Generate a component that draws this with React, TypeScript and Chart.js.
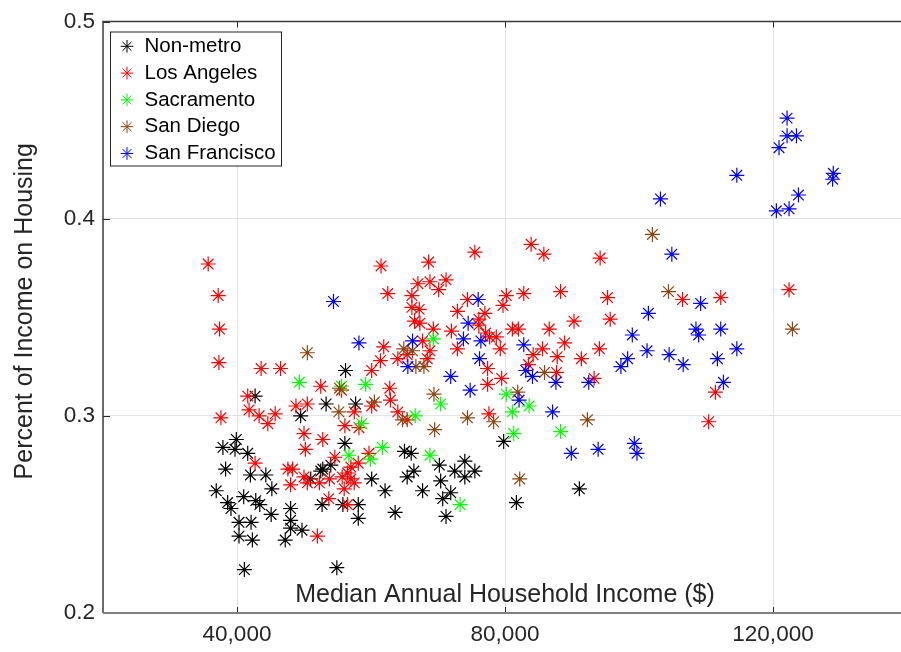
import React, { useEffect, useRef } from "react";
import { Chart, registerables } from "chart.js";
import { drawPoint } from "chart.js/helpers";

Chart.register(...registerables);

// Median annual household income ($) and share of income spent on housing, by region
const nonMetroIncome = [79800, 65000, 66000, 70200, 74000, 72500, 75500, 66400, 65400, 74000, 70400, 67700, 71900, 70700, 71200, 63600, 81700, 91100, 56200, 42700, 53300, 57700, 49500, 56100, 39900, 37900, 39700, 41600, 38300, 42000, 44300, 45200, 36900, 41000, 42800, 43400, 38600, 39100, 45100, 48000, 48000, 48000, 49700, 47200, 40300, 42100, 40300, 42300, 41100, 54900, 52700, 51000, 52500, 54000, 52800, 58100, 58100, 60100, 62100, 55800];
const nonMetroShare = [0.287, 0.282, 0.281, 0.275, 0.277, 0.272, 0.272, 0.272, 0.269, 0.269, 0.267, 0.262, 0.261, 0.258, 0.249, 0.251, 0.256, 0.263, 0.323, 0.310, 0.306, 0.306, 0.300, 0.286, 0.288, 0.284, 0.283, 0.281, 0.273, 0.270, 0.270, 0.263, 0.262, 0.259, 0.257, 0.255, 0.256, 0.253, 0.250, 0.253, 0.247, 0.243, 0.242, 0.237, 0.246, 0.246, 0.239, 0.237, 0.222, 0.223, 0.255, 0.268, 0.272, 0.275, 0.273, 0.255, 0.248, 0.268, 0.262, 0.255];

const laIncome = [94200, 95300, 106500, 112200, 122400, 95700, 94100, 91400, 93300, 111400, 110400, 75500, 83900, 85800, 68600, 67000, 68800, 71200, 70100, 66100, 80200, 82800, 88300, 74400, 79700, 66100, 67200, 72900, 77000, 66500, 67300, 76100, 76100, 90300, 69300, 72000, 77100, 77700, 78700, 81100, 82000, 86600, 88900, 67700, 72900, 79300, 85600, 84200, 87800, 68800, 68400, 64000, 65400, 77400, 83500, 87700, 79500, 77400, 64000, 77600, 65400, 35700, 37200, 37400, 37300, 61500, 62500, 43600, 46500, 61900, 61400, 60100, 52500, 55600, 62800, 41600, 48800, 50500, 41800, 43300, 45700, 37600, 62900, 60100, 57500, 44600, 56100, 58200, 50000, 52800, 50200, 42700, 54600, 59700, 58100, 57000, 56500, 47600, 48300, 50000, 48000, 50500, 52300, 53800, 55700, 56000, 57000, 57500, 53700, 56500, 52000];
const laShare = [0.380, 0.360, 0.359, 0.360, 0.364, 0.349, 0.334, 0.329, 0.319, 0.312, 0.297, 0.383, 0.387, 0.382, 0.378, 0.367, 0.368, 0.369, 0.364, 0.361, 0.361, 0.362, 0.363, 0.359, 0.356, 0.355, 0.354, 0.353, 0.352, 0.348, 0.347, 0.349, 0.346, 0.348, 0.344, 0.343, 0.342, 0.340, 0.340, 0.344, 0.344, 0.344, 0.337, 0.338, 0.334, 0.334, 0.334, 0.331, 0.330, 0.333, 0.329, 0.329, 0.331, 0.324, 0.326, 0.322, 0.319, 0.316, 0.302, 0.301, 0.298, 0.377, 0.361, 0.344, 0.327, 0.376, 0.362, 0.324, 0.324, 0.335, 0.328, 0.323, 0.315, 0.313, 0.314, 0.310, 0.305, 0.306, 0.303, 0.300, 0.301, 0.299, 0.308, 0.305, 0.302, 0.296, 0.295, 0.294, 0.291, 0.288, 0.283, 0.276, 0.279, 0.281, 0.276, 0.274, 0.271, 0.273, 0.273, 0.269, 0.265, 0.266, 0.266, 0.268, 0.269, 0.263, 0.268, 0.266, 0.258, 0.255, 0.239];

const sacIncome = [69300, 80200, 70400, 83600, 81100, 66600, 49300, 55600, 59200, 58600, 56700, 59900, 61700, 81300, 88300, 68800, 73300];
const sacShare = [0.339, 0.311, 0.306, 0.305, 0.302, 0.300, 0.317, 0.315, 0.316, 0.296, 0.280, 0.278, 0.284, 0.291, 0.292, 0.280, 0.255];

const sdIncome = [102000, 104400, 122900, 92300, 64900, 66200, 66700, 67900, 69400, 85900, 81900, 74400, 64700, 50500, 55300, 60500, 55200, 78300, 69500, 82200];
const sdShare = [0.392, 0.363, 0.344, 0.298, 0.334, 0.333, 0.325, 0.325, 0.311, 0.322, 0.312, 0.299, 0.298, 0.332, 0.314, 0.307, 0.302, 0.297, 0.293, 0.268];

const sfIncome = [122100, 122100, 123500, 120900, 114600, 129000, 128900, 123800, 122400, 120500, 103200, 104900, 109200, 101400, 108500, 108900, 112200, 99000, 114600, 101200, 104500, 106600, 98300, 97300, 111700, 112600, 92500, 93900, 99300, 99700, 76000, 74500, 76400, 73800, 66200, 82800, 76200, 65500, 83100, 84100, 87600, 71900, 74800, 82100, 87100, 54400, 58200, 89900];
const sfShare = [0.451, 0.442, 0.442, 0.436, 0.422, 0.423, 0.420, 0.412, 0.405, 0.404, 0.410, 0.382, 0.357, 0.352, 0.344, 0.341, 0.344, 0.341, 0.334, 0.333, 0.331, 0.326, 0.329, 0.325, 0.329, 0.317, 0.317, 0.283, 0.286, 0.281, 0.359, 0.347, 0.338, 0.339, 0.338, 0.336, 0.329, 0.325, 0.323, 0.320, 0.317, 0.320, 0.313, 0.308, 0.302, 0.358, 0.337, 0.281];

const seriesNames = ["Non-metro", "Los Angeles", "Sacramento", "San Diego", "San Francisco"];
const seriesColors = ["#000000", "#ff0000", "#00ff00", "#8b4513", "#0000ff"];
const xTicks = [40000, 80000, 120000];
const xTitle = "Median Annual Household Income ($)";
const yTitle = "Percent of Income on Housing";

const FONT = '"Liberation Sans", Arial, Helvetica, sans-serif';
const AXIS_COLOR = "#262626";

const toPoints = (xs: number[], ys: number[]) => xs.map((x, i) => ({ x, y: ys[i] }));

// Box, inward tick marks, in-axes x label, rotated y label and boxed legend
const decorations = {
  id: "decorations",
  afterDraw(chart: any) {
    const { ctx, chartArea: a, scales } = chart;
    const xs = scales.x;
    const ys = scales.y;
    ctx.save();

    // inward tick marks
    ctx.strokeStyle = AXIS_COLOR;
    ctx.lineWidth = 1;
    ctx.beginPath();
    xTicks.forEach((v) => {
      const px = Math.round(xs.getPixelForValue(v)) + 0.5;
      ctx.moveTo(px, a.bottom);
      ctx.lineTo(px, a.bottom - 6);
      ctx.moveTo(px, a.top);
      ctx.lineTo(px, a.top + 6);
    });
    ys.ticks.forEach((t: any) => {
      const py = Math.round(ys.getPixelForValue(t.value)) + 0.5;
      ctx.moveTo(a.left, py);
      ctx.lineTo(a.left + 7, py);
    });
    ctx.stroke();

    // axes box (left, top, bottom)
    ctx.strokeStyle = "#3a3a3a";
    ctx.lineWidth = 1.5;
    ctx.beginPath();
    ctx.moveTo(a.left, a.bottom);
    ctx.lineTo(a.left, a.top);
    ctx.lineTo(a.right, a.top);
    ctx.stroke();
    ctx.strokeStyle = "#808080";
    ctx.lineWidth = 2;
    ctx.beginPath();
    ctx.moveTo(a.left, a.bottom);
    ctx.lineTo(a.right, a.bottom);
    ctx.stroke();

    // x axis title, inside the axes
    ctx.fillStyle = AXIS_COLOR;
    ctx.font = `25px ${FONT}`;
    ctx.textAlign = "center";
    ctx.textBaseline = "alphabetic";
    ctx.fillText(xTitle, (a.left + a.right) / 2, a.bottom - 11.5);

    // y axis title
    ctx.save();
    ctx.translate(32, (a.top + a.bottom) / 2 - 6);
    ctx.rotate(-Math.PI / 2);
    ctx.fillText(yTitle, 0, 0);
    ctx.restore();

    // legend
    const lx = a.left + 7.5;
    const ly = a.top + 10.5;
    const lw = 171;
    const lh = 134;
    ctx.fillStyle = "#ffffff";
    ctx.fillRect(lx, ly, lw, lh);
    ctx.strokeStyle = AXIS_COLOR;
    ctx.lineWidth = 1;
    ctx.strokeRect(lx, ly, lw, lh);
    ctx.font = `20.5px ${FONT}`;
    ctx.textAlign = "left";
    ctx.textBaseline = "middle";
    chart.data.datasets.forEach((ds: any, i: number) => {
      const cy = ly + 14.3 + i * 26.8;
      ctx.strokeStyle = ds.pointBorderColor;
      ctx.fillStyle = ds.pointBorderColor;
      drawPoint(ctx, { pointStyle: "star", radius: 6.3, borderWidth: 1.1, rotation: 0 }, lx + 16.5, cy);
      ctx.fillStyle = "#000000";
      ctx.fillText(ds.label, lx + 34, cy);
    });

    ctx.restore();
  },
};

export default function App() {
  const canvasRef = useRef<HTMLCanvasElement | null>(null);

  useEffect(() => {
    const canvas = canvasRef.current;
    if (!canvas) return;
    const seriesData = [
      toPoints(nonMetroIncome, nonMetroShare),
      toPoints(laIncome, laShare),
      toPoints(sacIncome, sacShare),
      toPoints(sdIncome, sdShare),
      toPoints(sfIncome, sfShare),
    ];
    const chart = new Chart(canvas, {
      type: "scatter",
      data: {
        datasets: seriesData.map((data, i) => ({
          label: seriesNames[i],
          data,
          order: seriesNames.length - i,
          pointStyle: "star",
          pointRadius: 7.5,
          pointHoverRadius: 7.5,
          pointBorderWidth: 1.2,
          pointBorderColor: seriesColors[i],
          pointBackgroundColor: seriesColors[i],
          showLine: false,
        })),
      },
      options: {
        responsive: false,
        animation: false,
        devicePixelRatio: 1,
        layout: { autoPadding: false, padding: { top: 19, right: 0, left: 0, bottom: 0 } },
        plugins: {
          legend: { display: false },
          tooltip: { enabled: false },
          title: { display: false },
        },
        scales: {
          x: {
            type: "linear",
            min: 20000,
            max: 140000,
            afterBuildTicks: (s: any) => {
              s.ticks = xTicks.map((v) => ({ value: v }));
            },
            afterFit: (s: any) => {
              s.height = 39;
            },
            grid: { color: "#e3e3e3", lineWidth: 1, drawTicks: false },
            border: { display: false },
            ticks: {
              padding: 8,
              color: AXIS_COLOR,
              font: { family: FONT, size: 22.5 },
              maxRotation: 0,
              callback: (v: any) => Number(v).toLocaleString("en-US"),
            },
          },
          y: {
            type: "linear",
            min: 0.2,
            max: 0.5,
            afterFit: (s: any) => {
              s.width = 103;
            },
            grid: { color: "#e3e3e3", lineWidth: 1, drawTicks: false },
            border: { display: false },
            ticks: {
              stepSize: 0.1,
              padding: 8,
              color: AXIS_COLOR,
              font: { family: FONT, size: 22.5 },
              callback: (v: any) => Number(v).toFixed(1),
            },
          },
        },
      },
      plugins: [decorations],
    });
    return () => chart.destroy();
  }, []);

  return (
    <div
      style={{
        position: "fixed",
        left: 0,
        top: 0,
        width: 901,
        height: 652,
        overflow: "hidden",
        background: "#ffffff",
      }}
    >
      <canvas ref={canvasRef} width={907} height={652} style={{ display: "block" }} />
    </div>
  );
}
